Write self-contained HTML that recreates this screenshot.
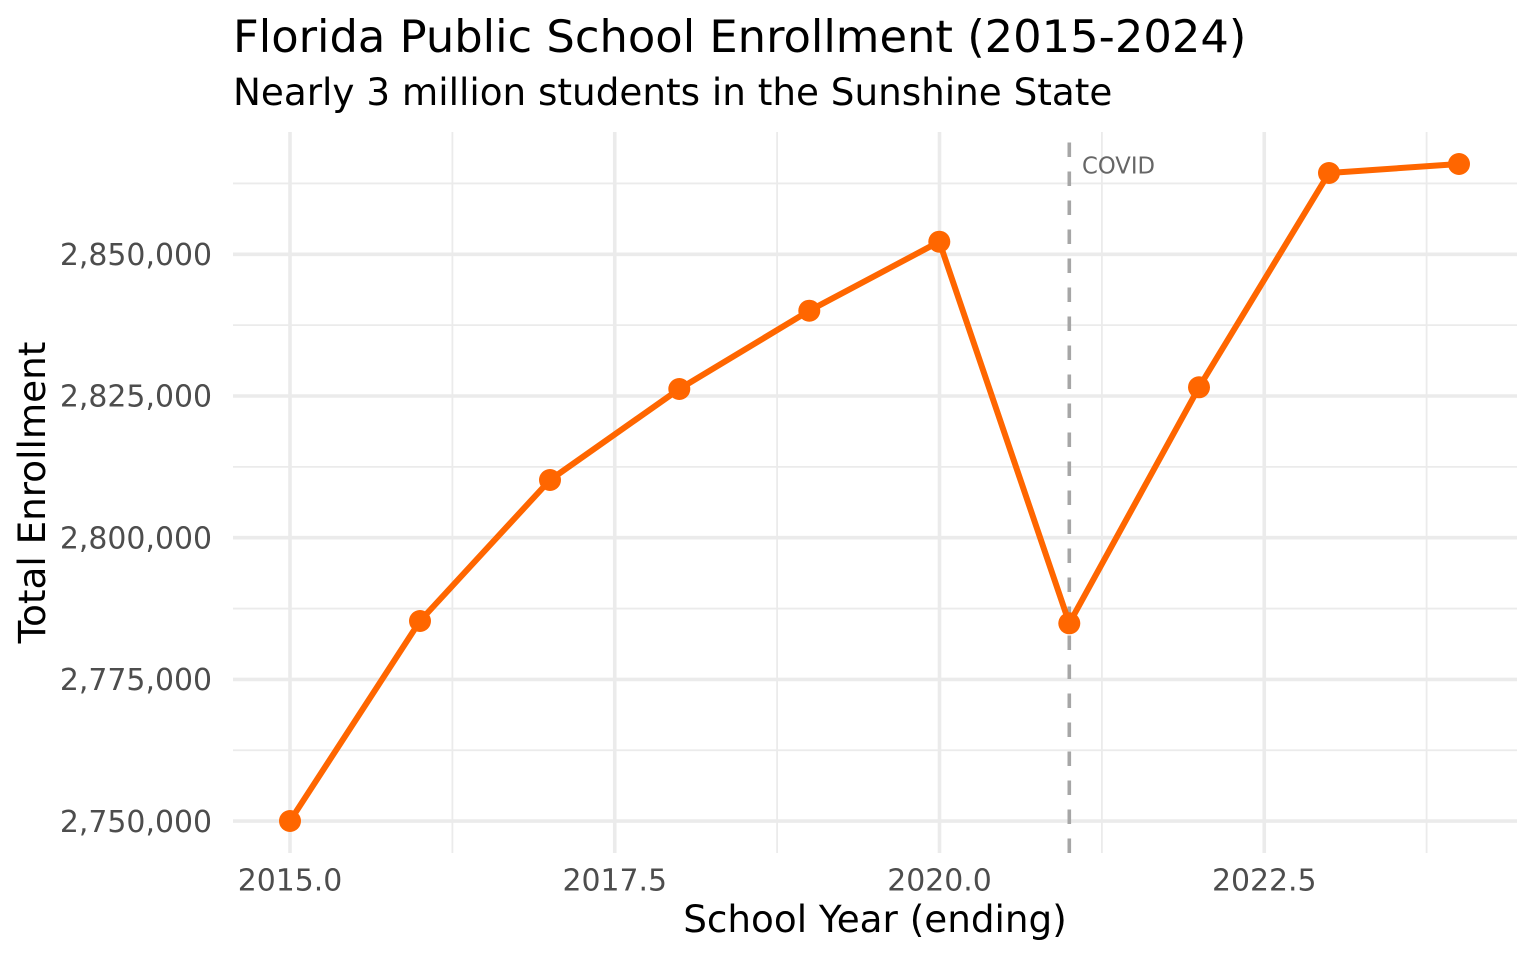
<!DOCTYPE html>
<html>
<head>
<meta charset="utf-8">
<style>
  html, body { margin: 0; padding: 0; background: #ffffff; }
  svg { display: block; }
  text { font-family: "DejaVu Sans", "Liberation Sans", sans-serif; }
</style>
</head>
<body>
<svg width="1536" height="960" viewBox="0 0 1536 960" xmlns="http://www.w3.org/2000/svg">
  <rect x="0" y="0" width="1536" height="960" fill="#ffffff"/>

  <!-- minor horizontal gridlines -->
  <g stroke="#EBEBEB" stroke-width="1.8" fill="none">
    <line x1="233" y1="183.45" x2="1517" y2="183.45"/>
    <line x1="233" y1="325.15" x2="1517" y2="325.15"/>
    <line x1="233" y1="466.85" x2="1517" y2="466.85"/>
    <line x1="233" y1="608.55" x2="1517" y2="608.55"/>
    <line x1="233" y1="750.25" x2="1517" y2="750.25"/>
    <!-- minor vertical -->
    <line x1="452.4" y1="132" x2="452.4" y2="853"/>
    <line x1="777.1" y1="132" x2="777.1" y2="853"/>
    <line x1="1101.9" y1="132" x2="1101.9" y2="853"/>
    <line x1="1426.6" y1="132" x2="1426.6" y2="853"/>
  </g>
  <!-- major gridlines -->
  <g stroke="#EBEBEB" stroke-width="3.6" fill="none">
    <line x1="233" y1="254.3" x2="1517" y2="254.3"/>
    <line x1="233" y1="396" x2="1517" y2="396"/>
    <line x1="233" y1="537.7" x2="1517" y2="537.7"/>
    <line x1="233" y1="679.4" x2="1517" y2="679.4"/>
    <line x1="233" y1="821.1" x2="1517" y2="821.1"/>
    <line x1="290" y1="132" x2="290" y2="853"/>
    <line x1="614.75" y1="132" x2="614.75" y2="853"/>
    <line x1="939.5" y1="132" x2="939.5" y2="853"/>
    <line x1="1264.25" y1="132" x2="1264.25" y2="853"/>
  </g>

  <!-- COVID dashed line -->
  <line x1="1069.3" y1="853" x2="1069.3" y2="132" stroke="#A6A6A6" stroke-width="3.6" stroke-dasharray="14.5 14.5"/>
  <text x="1082" y="173.5" font-size="22.7" fill="#666666">COVID</text>

  <!-- series line -->
  <polyline fill="none" stroke="#FF6600" stroke-width="6" stroke-linejoin="round" stroke-linecap="butt"
    points="290,821 420,621 550,480 679.3,389 809.3,310.7 939.3,241.7 1069.3,623.3 1199,387.3 1329,173 1459,164"/>
  <!-- points -->
  <g fill="#FF6600">
    <circle cx="290" cy="821" r="11"/>
    <circle cx="420" cy="621" r="11"/>
    <circle cx="550" cy="480" r="11"/>
    <circle cx="679.3" cy="389" r="11"/>
    <circle cx="809.3" cy="310.7" r="11"/>
    <circle cx="939.3" cy="241.7" r="11"/>
    <circle cx="1069.3" cy="623.3" r="11"/>
    <circle cx="1199" cy="387.3" r="11"/>
    <circle cx="1329" cy="173" r="11"/>
    <circle cx="1459" cy="164" r="11"/>
  </g>

  <!-- y tick labels -->
  <g font-size="29.9" fill="#4D4D4D" text-anchor="end">
    <text x="212" y="265">2,850,000</text>
    <text x="212" y="406.7">2,825,000</text>
    <text x="212" y="548.4">2,800,000</text>
    <text x="212" y="690.1">2,775,000</text>
    <text x="212" y="831.8">2,750,000</text>
  </g>

  <!-- x tick labels -->
  <g font-size="29.9" fill="#4D4D4D" text-anchor="middle">
    <text x="290" y="890.7">2015.0</text>
    <text x="614.75" y="890.7">2017.5</text>
    <text x="939.5" y="890.7">2020.0</text>
    <text x="1264.25" y="890.7">2022.5</text>
  </g>

  <!-- axis titles -->
  <text x="875" y="932" font-size="37.3" fill="#000000" text-anchor="middle">School Year (ending)</text>
  <text transform="translate(45,492.5) rotate(-90)" font-size="37.3" fill="#000000" text-anchor="middle">Total Enrollment</text>

  <!-- title & subtitle -->
  <text x="233" y="52" font-size="44.8" fill="#000000">Florida Public School Enrollment (2015-2024)</text>
  <text x="233" y="105" font-size="37.3" fill="#000000">Nearly 3 million students in the Sunshine State</text>
</svg>
</body>
</html>
